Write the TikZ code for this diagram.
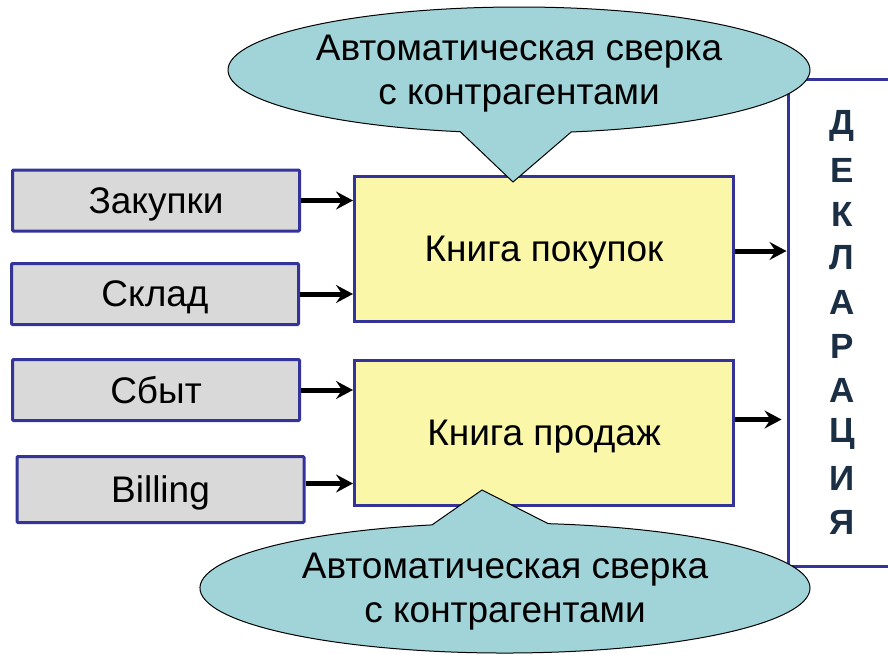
\documentclass[tikz,border=0pt]{standalone}
\usepackage{fontspec}
\setmainfont{Liberation Sans}
\usepackage{tikz}
\usetikzlibrary{positioning}
\usetikzlibrary{shapes.callouts}
\usetikzlibrary{arrows.meta}
\usepackage{xcolor}
\definecolor{boxblue}{RGB}{51,51,153}
\definecolor{srcgray}{RGB}{217,217,217}
\definecolor{bookyellow}{RGB}{250,248,168}
\definecolor{calloutteal}{RGB}{160,212,216}
\definecolor{letternavy}{RGB}{26,46,68}
\newcommand\bigfont{\fontsize{37}{44}\selectfont}

\begin{document}
\begin{tikzpicture}[x=1pt, y=-1pt,
    src/.style={draw=boxblue, line width=3pt, fill=srcgray, rounded corners=1pt, minimum width=287pt, minimum height=61pt, font=\bigfont, text depth=0pt},
    book/.style={draw=boxblue, line width=3pt, fill=bookyellow, minimum width=379pt, minimum height=145pt, font=\bigfont, text depth=0pt},
    feed/.style={black, line width=5pt, -{Stealth[length=17pt, width=18pt, inset=6pt]}},
    bubble/.style={ellipse callout, draw=black, line width=1pt, fill=calloutteal, align=center, font=\bigfont, inner sep=0pt, text depth=-4pt, callout pointer arc=22},
    letter/.style={text=letternavy, font=\fontsize{35}{35}\selectfont\bfseries, inner sep=0pt},
  ]
  \useasboundingbox (0,0) rectangle (888,654);

  % declaration
  \node[draw=boxblue, line width=3pt, fill=white, minimum width=140pt, minimum height=487pt] (dekl) at (858,322.5) {};
  \foreach \ltr [count=\i from 0] in {Д,Е,К,Л,А,Р,А,Ц,И,Я}
    \node[letter] (ltr\i) at (842,126+44*\i) {\ltr};

  % sources
  \node[src] (zakupki) at (156,200.5) {Закупки};
  \node[src] (sklad) at (155,294) {Склад};
  \node[src] (sbyt) at (156,390) {Сбыт};
  \node[src, minimum height=66pt] (billing) at (160.5,489.5) {Billing};

  % books
  \node[book] (knigapok) at (544,249) {Книга покупок};
  \node[book] (knigaprod) at (544,432.5) {Книга продаж};

  \draw[feed] (zakupki.east) -- (zakupki.east -| knigapok.west);
  \draw[feed] (sklad.east) -- (sklad.east -| knigapok.west);
  \draw[feed] (sbyt.east) -- (sbyt.east -| knigaprod.west);
  \draw[feed] ([yshift=6pt]billing.east) -- ([yshift=6pt]billing.east -| knigaprod.west);
  \draw[feed] ([yshift=-2pt]knigapok.east) -- ([yshift=-2pt]knigapok.east -| dekl.west);
  \draw[feed] ([yshift=13pt]knigaprod.east) -- ([yshift=13pt, xshift=-5pt]knigaprod.east -| dekl.west);

  % reconciliation
  \node[bubble, minimum width=582pt, minimum height=126pt, callout absolute pointer={(513,182)}] (sverkatop) at (519,70) {Автоматическая сверка\\с контрагентами};
  \node[bubble, minimum width=610pt, minimum height=130pt, callout absolute pointer={(482,490)}] (sverkabot) at (505,588) {Автоматическая сверка\\с контрагентами};
\end{tikzpicture}
\end{document}
